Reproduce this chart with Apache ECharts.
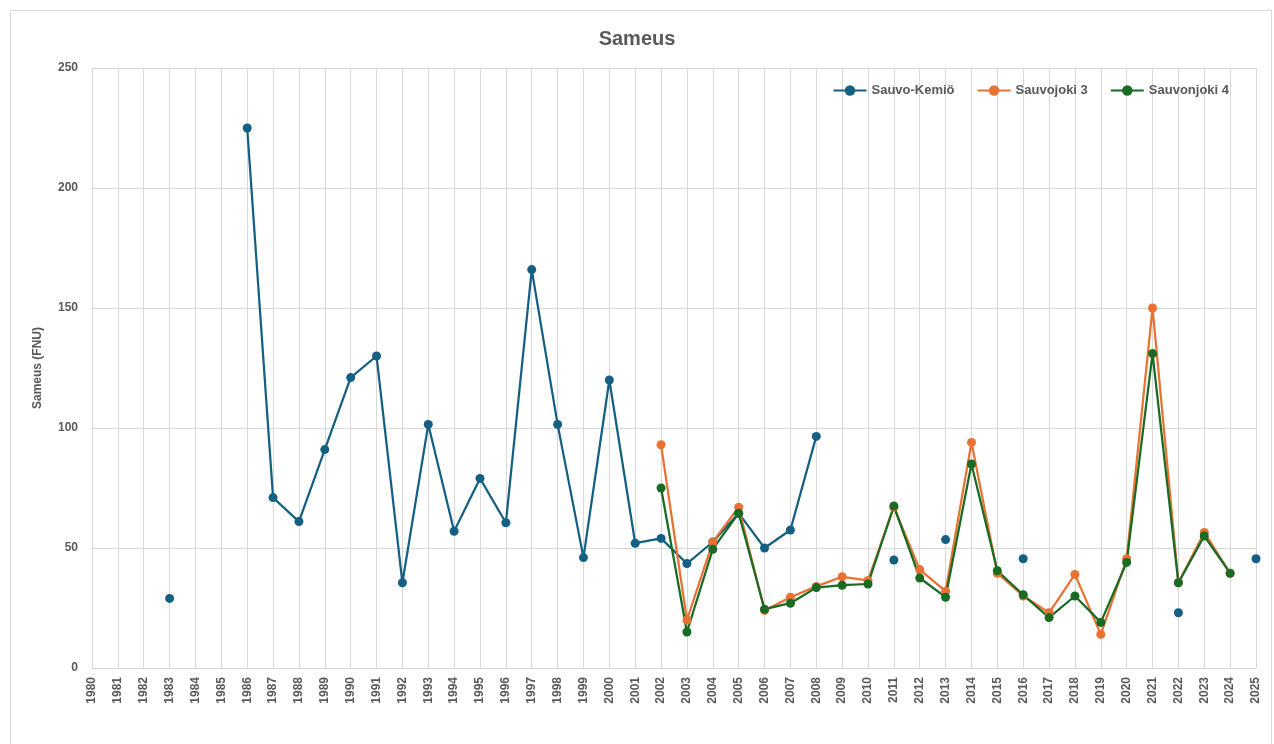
<!DOCTYPE html>
<html lang="fi">
<head>
    <meta charset="UTF-8">
    <title>Sameus</title>
    <script src="https://cdn.jsdelivr.net/npm/echarts@6/dist/echarts.min.js"></script>
    <style>
        html, body { margin: 0; padding: 0; background: #fff; }
        #frame {
            position: absolute; left: 10px; top: 10px;
            width: 1262px; height: 740px;
            border: 1px solid #d9d9d9; box-sizing: border-box;
        }
        #chart { position: absolute; left: 0; top: 0; width: 1274px; height: 744px; }
    </style>
</head>
<body>
    <div id="frame"></div>
    <div id="chart"></div>
    <script>
        const years = [];
        for (let y = 1980; y <= 2025; y++) years.push(String(y));

        // Sauvo-Kemiö, 1980..2025 (null = no measurement)
        const sauvoKemio = [
            null, null, null, 29, null, null, 225, 71, 61, 91,
            121, 130, 35.5, 101.5, 57, 79, 60.5, 166, 101.5, 46,
            120, 52, 54, 43.5, 52.5, 64.5, 50, 57.5, 96.5, null,
            null, 45, null, 53.5, null, null, 45.5, null, null, null,
            null, null, 23, null, null, 45.5
        ];
        const sauvojoki3 = [
            null, null, null, null, null, null, null, null, null, null,
            null, null, null, null, null, null, null, null, null, null,
            null, null, 93, 20, 52.5, 67, 24, 29.5, 34, 38,
            36.5, 67, 41, 32, 94, 39.5, 30, 23, 39, 14,
            45.5, 150, 35.5, 56.5, 39.5, null
        ];
        const sauvonjoki4 = [
            null, null, null, null, null, null, null, null, null, null,
            null, null, null, null, null, null, null, null, null, null,
            null, null, 75, 15, 49.5, 64.5, 24.5, 27, 33.5, 34.5,
            35, 67.5, 37.5, 29.5, 85, 40.5, 30.5, 21, 30, 19,
            44, 131, 35.5, 55, 39.5, null
        ];

        const gridColor = '#d9d9d9';
        const textColor = '#595959';

        function lineSeries(name, data, color) {
            return {
                name: name,
                type: 'line',
                data: data,
                connectNulls: false,
                symbol: 'circle',
                symbolSize: 9,
                showSymbol: true,
                lineStyle: { width: 2.25, color: color },
                itemStyle: { color: color },
                emphasis: { disabled: true }
            };
        }

        let chart = echarts.init(document.getElementById('chart'));
        let option = {
            animation: false,
            title: {
                text: 'Sameus',
                left: 'center',
                top: 24,
                textStyle: {
                    fontFamily: 'Liberation Sans Narrow, Liberation Sans, sans-serif',
                    fontSize: 20, fontWeight: 'bold', color: textColor
                }
            },
            legend: {
                right: 40,
                top: 79,
                itemWidth: 33,
                itemHeight: 13,
                itemGap: 22,
                textStyle: {
                    fontFamily: 'Liberation Sans, sans-serif',
                    fontSize: 13, fontWeight: 'bold', color: textColor
                },
                data: ['Sauvo-Kemiö', 'Sauvojoki 3', 'Sauvonjoki 4']
            },
            grid: { left: 92, right: 18, top: 68, bottom: 76 },
            xAxis: {
                type: 'category',
                data: years,
                boundaryGap: false,
                axisLine: { lineStyle: { color: gridColor, width: 1 } },
                axisTick: { show: false },
                splitLine: { show: true, lineStyle: { color: gridColor, width: 1 } },
                axisLabel: {
                    rotate: 90,
                    interval: 0,
                    margin: 9,
                    fontFamily: 'Liberation Sans, sans-serif',
                    fontSize: 12, fontWeight: 'bold', color: textColor
                }
            },
            yAxis: {
                type: 'value',
                min: 0, max: 250, interval: 50,
                name: 'Sameus (FNU)',
                nameLocation: 'middle',
                nameGap: 48,
                nameRotate: 90,
                nameTextStyle: {
                    fontFamily: 'Liberation Sans, sans-serif',
                    fontSize: 12, fontWeight: 'bold', color: textColor
                },
                axisLine: { show: false },
                axisTick: { show: false },
                splitLine: { lineStyle: { color: gridColor, width: 1 } },
                axisLabel: {
                    margin: 14,
                    fontFamily: 'Liberation Sans, sans-serif',
                    fontSize: 12, fontWeight: 'bold', color: textColor
                }
            },
            series: [
                lineSeries('Sauvo-Kemiö', sauvoKemio, '#156082'),
                lineSeries('Sauvojoki 3', sauvojoki3, '#E97132'),
                lineSeries('Sauvonjoki 4', sauvonjoki4, '#196B24')
            ]
        };
        chart.setOption(option);
    </script>
</body>
</html>
